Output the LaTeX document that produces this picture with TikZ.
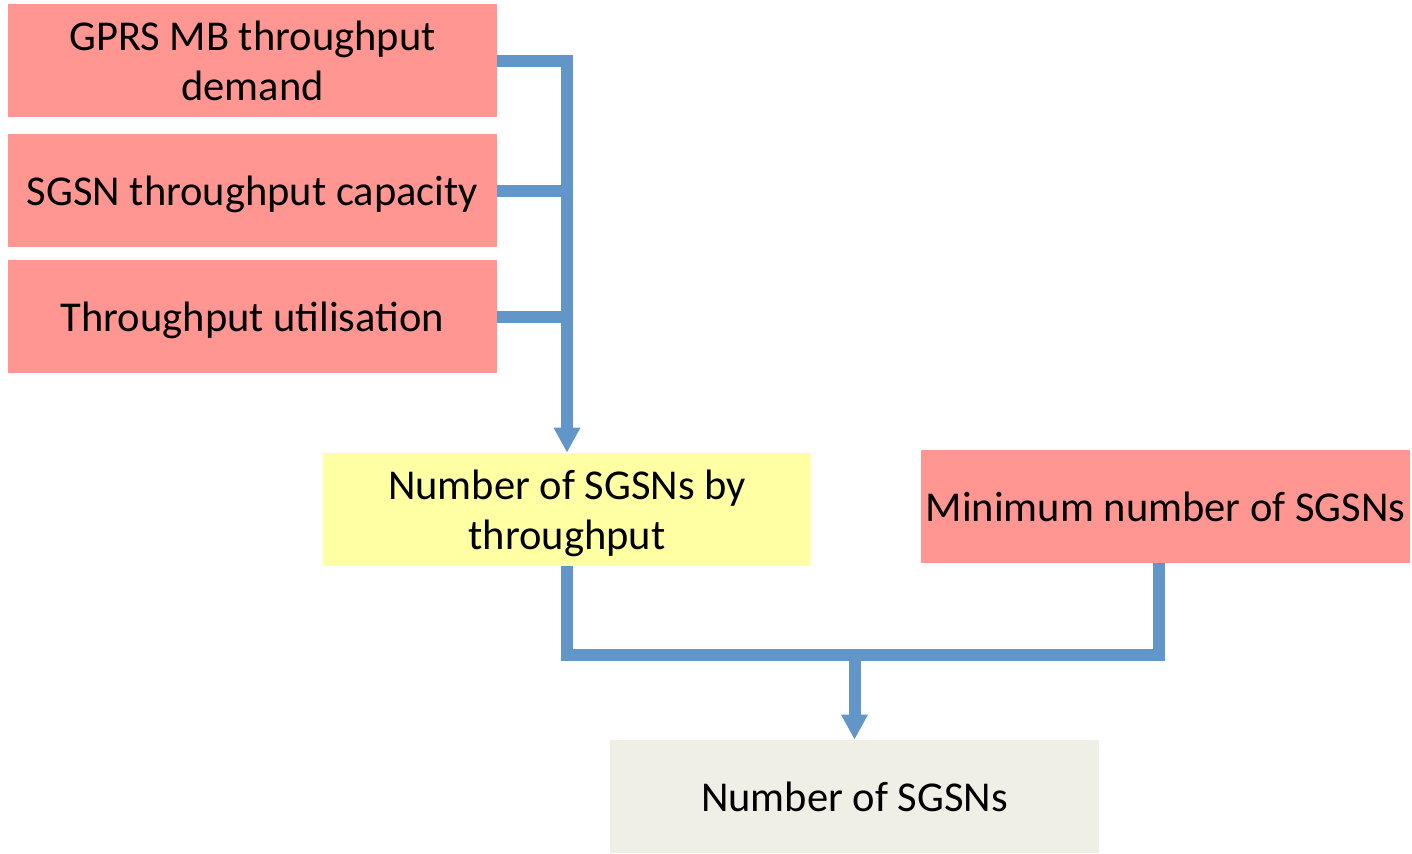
\documentclass[tikz,border=0pt]{standalone}
\usepackage{fontspec}
\setmainfont{Carlito}
\usepackage{tikz}
\usetikzlibrary{positioning, arrows.meta}
\definecolor{salmon}{RGB}{255,150,145}
\definecolor{paleyellow}{RGB}{255,255,163}
\definecolor{paleground}{RGB}{239,239,229}
\definecolor{flowblue}{RGB}{98,150,201}
\tikzstyle{inp}=[%
      rectangle, draw=none, fill=salmon,
      minimum height=2.26cm, minimum width=9.78cm, inner sep=0pt, align=center,
      text depth=-0.16cm, font=\fontsize{24.2}{28.5}\selectfont
]
\tikzstyle{mid}=[%
      inp, fill=paleyellow
]
\tikzstyle{res}=[%
      inp, fill=paleground
]
\tikzstyle{flow}=[%
      draw=flowblue, line width=0.24cm, line join=miter
]

\begin{document}
\begin{tikzpicture}[x=0.02cm, y=-0.02cm,
    >={Triangle[width=0.5cm, length=0.5cm]}
  ]
    \useasboundingbox (0,0) rectangle (1412,853);

    \node[inp] (gprs)  at (252.5,60.5)   {GPRS MB throughput\\demand};
    \node[inp] (sgsn)  at (252.5,190.5)  {SGSN throughput capacity};
    \node[inp] (util)  at (252.5,316.5)  {Throughput utilisation};
    \node[mid] (thru)  at (567,509.5)    {Number of SGSNs by\\throughput};
    \node[inp] (minim) at (1165.5,506.5) {Minimum number of SGSNs};
    \node[res] (total) at (854.5,796.5)  {Number of SGSNs};

    \coordinate (mrg) at (total.north |- 0,655);

    \draw[flow, ->] (gprs.east) -| (thru.north);
    \draw[flow] (sgsn.east) -- (sgsn.east -| thru.north);
    \draw[flow] (util.east) -- (util.east -| thru.north);
    \draw[flow] (thru.south) |- (mrg) -| ([xshift=-0.14cm]minim.south);
    \draw[flow, ->] (mrg) -- (total.north);
\end{tikzpicture}
\end{document}
